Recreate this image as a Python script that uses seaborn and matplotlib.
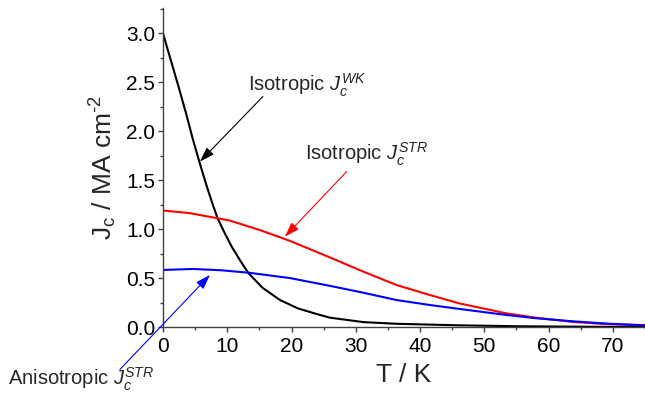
import matplotlib
matplotlib.use("Agg")
import matplotlib.pyplot as plt
from matplotlib.ticker import MultipleLocator
import seaborn as sns
import pandas as pd

# ---- data ----
T_wk = [0, 1.2, 2.4, 3.6, 4.6, 5.65, 6.8, 7.7, 8.5, 9.6, 10.7, 12, 13.3, 15.5,
        18.2, 21, 23.9, 26, 31.2, 36.3, 46.2, 55, 65, 75]
J_wk = [3.00, 2.73, 2.46, 2.18, 1.93, 1.69, 1.44, 1.26, 1.11, 0.96, 0.82, 0.68,
        0.55, 0.40, 0.276, 0.19, 0.133, 0.095, 0.05, 0.033, 0.017, 0.008, 0.003, 0.0]

T_str = [0, 4, 8.6, 10.4, 15.1, 19.75, 26, 31.2, 36.3, 41.5, 46.2, 53.4, 58,
         63.8, 69, 75]
J_str = [1.19, 1.165, 1.11, 1.087, 0.99, 0.88, 0.71, 0.565, 0.43, 0.327, 0.24,
         0.14, 0.095, 0.052, 0.03, 0.02]

T_an = [0, 4.7, 9, 13.3, 19.75, 26, 31.2, 36.3, 41.5, 46.2, 53.4, 58, 63.8, 69, 75]
J_an = [0.583, 0.593, 0.58, 0.555, 0.50, 0.42, 0.35, 0.276, 0.225, 0.184, 0.123,
        0.09, 0.058, 0.035, 0.015]

x_ticks = [0, 10, 20, 30, 40, 50, 60, 70]
y_ticks = [0.0, 0.5, 1.0, 1.5, 2.0, 2.5, 3.0]

sns.set_style("ticks")
plt.rcParams["font.family"] = ["Liberation Sans", "DejaVu Sans"]
plt.rcParams["mathtext.fontset"] = "custom"
plt.rcParams["mathtext.rm"] = "Liberation Sans"
plt.rcParams["mathtext.it"] = "Liberation Sans:italic"
plt.rcParams["mathtext.bf"] = "Liberation Sans:bold"

fig = plt.figure(figsize=(6.45, 3.97), dpi=100)
ax = fig.add_axes([0.2527, 0.1763, 0.7473, 0.8037])

df_wk = pd.DataFrame({"T": T_wk, "J": J_wk})
df_str = pd.DataFrame({"T": T_str, "J": J_str})
df_an = pd.DataFrame({"T": T_an, "J": J_an})

sns.lineplot(data=df_wk, x="T", y="J", ax=ax, color="black", lw=1.5, sort=False, estimator=None)
sns.lineplot(data=df_str, x="T", y="J", ax=ax, color="#ff0000", lw=1.5, sort=False, estimator=None)
sns.lineplot(data=df_an, x="T", y="J", ax=ax, color="#0000ff", lw=1.5, sort=False, estimator=None)

ax.set_xlim(0, 75)
ax.set_ylim(0, 3.26)
ax.set_xticks(x_ticks)
ax.set_yticks(y_ticks)
ax.set_xticklabels([str(t) for t in x_ticks])
ax.set_yticklabels([f"{t:.1f}" for t in y_ticks])
ax.xaxis.set_minor_locator(MultipleLocator(5))
ax.yaxis.set_minor_locator(MultipleLocator(0.25))

spine_col = "#404040"
for s in ["top", "right"]:
    ax.spines[s].set_visible(False)
for s in ["left", "bottom"]:
    ax.spines[s].set_color(spine_col)
    ax.spines[s].set_linewidth(1.0)
ax.tick_params(which="major", direction="out", length=3.5, width=1.0, color=spine_col,
               labelsize=15, labelcolor="black")
ax.tick_params(axis="y", which="major", pad=2)
ax.tick_params(axis="x", which="major", pad=4)
ax.tick_params(which="minor", direction="out", length=2.5, width=1.0, color=spine_col)

ax.set_xlabel("T / K", fontsize=19, labelpad=5)
ax.set_ylabel(r"J$_{\mathrm{c}}$ / MA cm$^{\text{-2}}$", fontsize=19, labelpad=5)

fs = 14.5
ax.text(13.22, 2.413, r"Isotropic $J_c^{WK}$", fontsize=fs, va="baseline", ha="left")
ax.annotate("", xy=(5.75, 1.69), xytext=(15.55, 2.355),
            arrowprops=dict(arrowstyle="-|>,head_length=0.6,head_width=0.2",
                            color="black", lw=0.8, mutation_scale=15, shrinkA=0, shrinkB=0))

ax.text(22.09, 1.70, r"Isotropic $J_c^{STR}$", fontsize=fs, va="baseline", ha="left")
ax.annotate("", xy=(18.97, 0.923), xytext=(28.57, 1.588),
            arrowprops=dict(arrowstyle="-|>,head_length=0.6,head_width=0.2",
                            color="#ff0000", lw=0.8, mutation_scale=15, shrinkA=0, shrinkB=0))

ax.text(-24.05, -0.593, r"Anisotropic $J_c^{STR}$", fontsize=fs, va="baseline", ha="left",
        clip_on=False)
ax.annotate("", xy=(7.31, 0.532), xytext=(-6.69, -0.433), annotation_clip=False,
            arrowprops=dict(arrowstyle="-|>,head_length=0.6,head_width=0.2",
                            color="#0000ff", lw=0.8, mutation_scale=15, shrinkA=0, shrinkB=0,
                            clip_on=False))

fig.savefig("out.png", dpi=100)
